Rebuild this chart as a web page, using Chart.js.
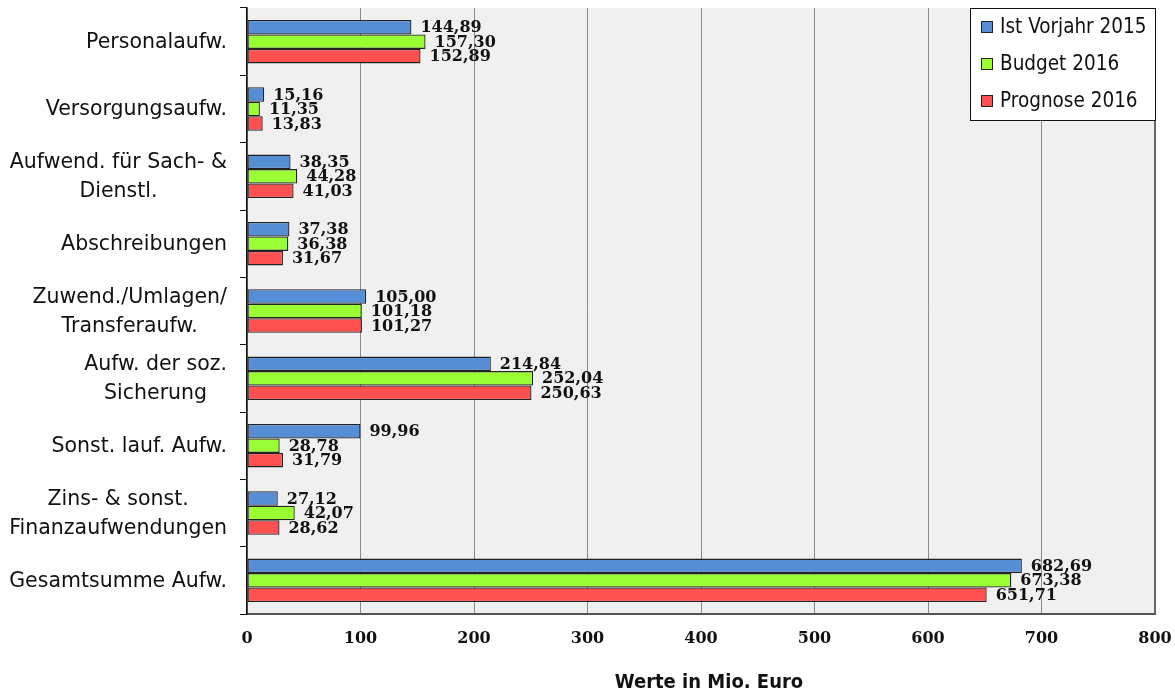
<!DOCTYPE html>
<html>
<head>
<meta charset="utf-8">
<script src="https://cdn.jsdelivr.net/npm/chart.js@4.4.1/dist/chart.umd.min.js"></script>
<style>
  html, body { margin: 0; padding: 0; background: #ffffff; }
  #wrap { width: 1175px; height: 696px; }
</style>
</head>
<body>
<div id="wrap"><canvas id="chart" width="1175" height="696"></canvas></div>
<script>
// Expense categories (multi-line labels as arrays)
const categories = [
  'Personalaufw.',
  'Versorgungsaufw.',
  ['Aufwend. für Sach- &', 'Dienstl.'],
  'Abschreibungen',
  ['Zuwend./Umlagen/', 'Transferaufw.'],
  ['Aufw. der soz.', 'Sicherung'],
  'Sonst. lauf. Aufw.',
  ['Zins- & sonst.', 'Finanzaufwendungen'],
  'Gesamtsumme Aufw.'
];

const seriesNames = ['Ist Vorjahr 2015', 'Budget 2016', 'Prognose 2016'];

// Values in Mio. Euro
const istVorjahr2015 = [144.89, 15.16, 38.35, 37.38, 105.00, 214.84, 99.96, 27.12, 682.69];
const budget2016     = [157.30, 11.35, 44.28, 36.38, 101.18, 252.04, 28.78, 42.07, 673.38];
const prognose2016   = [152.89, 13.83, 41.03, 31.67, 101.27, 250.63, 31.79, 28.62, 651.71];

// Value axis ticks
const xTickValues = [0, 100, 200, 300, 400, 500, 600, 700, 800];
const axisTitle = 'Werte in Mio. Euro';

const seriesColors = ['#558ed5', '#99ff33', '#ff5050'];

const fmt = v => v.toFixed(2).replace('.', ',');

const CAT_FONT = '20.5px "DejaVu Sans", sans-serif';
const LEGEND_FONT = '20.5px "DejaVu Sans Condensed", "DejaVu Sans", sans-serif';
const TITLE_FONT = 'bold 20px "DejaVu Sans Condensed", "DejaVu Sans", sans-serif';
const VALUE_FONT = 'bold 16px "DejaVu Serif", serif';

// Grey plot background
const plotBackground = {
  id: 'plotBackground',
  beforeDraw(chart) {
    const { ctx, chartArea: a } = chart;
    ctx.save();
    ctx.fillStyle = '#f0f0f0';
    ctx.fillRect(a.left, a.top, a.right - a.left, a.bottom - a.top);
    ctx.restore();
  }
};

// Value labels to the right of each bar
const valueLabels = {
  id: 'valueLabels',
  afterDatasetsDraw(chart) {
    const { ctx } = chart;
    ctx.save();
    ctx.font = VALUE_FONT;
    ctx.fillStyle = '#111111';
    ctx.textAlign = 'left';
    ctx.textBaseline = 'middle';
    chart.data.datasets.forEach((ds, di) => {
      const meta = chart.getDatasetMeta(di);
      meta.data.forEach((bar, i) => {
        ctx.fillText(fmt(ds.data[i]), bar.x + 9, bar.y + 1);
      });
    });
    ctx.restore();
  }
};

// Frame, category labels, boxed legend and axis title
const decorations = {
  id: 'decorations',
  afterDraw(chart) {
    const { ctx, chartArea: a } = chart;
    const yScale = chart.scales.y;
    ctx.save();

    // right frame edge
    ctx.strokeStyle = '#666666';
    ctx.lineWidth = 2;
    ctx.beginPath();
    ctx.moveTo(a.right, a.top);
    ctx.lineTo(a.right, a.bottom);
    ctx.stroke();

    // category labels: block right-aligned, lines centred within the block
    ctx.font = CAT_FONT;
    ctx.fillStyle = '#111111';
    ctx.textAlign = 'center';
    ctx.textBaseline = 'middle';
    const lineH = 29;
    const rightEdge = a.left - 20;
    chart.data.labels.forEach((lab, i) => {
      const lines = Array.isArray(lab) ? lab : [lab];
      const w = Math.max(...lines.map(l => ctx.measureText(l).width));
      const cx = rightEdge - w / 2;
      const cy = yScale.getPixelForValue(i);
      const y0 = cy - (lines.length - 1) * lineH / 2;
      lines.forEach((l, k) => ctx.fillText(l, cx, y0 + k * lineH + 1));
    });

    // legend box in the top-right corner of the plot
    const bw = 186, bh = 113;
    const bx = a.right - bw + 1, by = a.top;
    ctx.fillStyle = '#ffffff';
    ctx.fillRect(bx, by, bw, bh);
    ctx.strokeStyle = '#111111';
    ctx.lineWidth = 1;
    ctx.strokeRect(bx + 0.5, by + 0.5, bw - 1, bh - 1);
    ctx.font = LEGEND_FONT;
    ctx.textAlign = 'left';
    ctx.textBaseline = 'middle';
    chart.data.datasets.forEach((ds, di) => {
      const cy = by + 19 + di * 37;
      ctx.fillStyle = ds.backgroundColor;
      ctx.fillRect(bx + 11, cy - 6, 12, 12);
      ctx.strokeStyle = '#222222';
      ctx.strokeRect(bx + 11.5, cy - 5.5, 11, 11);
      ctx.fillStyle = '#111111';
      ctx.fillText(ds.label, bx + 30, cy + 1);
    });

    // axis title
    ctx.font = TITLE_FONT;
    ctx.textAlign = 'center';
    ctx.textBaseline = 'alphabetic';
    ctx.fillStyle = '#111111';
    ctx.fillText(axisTitle, (a.left + a.right) / 2 + 8, 688);

    ctx.restore();
  }
};

const seriesData = [istVorjahr2015, budget2016, prognose2016];

new Chart(document.getElementById('chart'), {
  type: 'bar',
  data: {
    labels: categories,
    datasets: seriesNames.map((name, i) => ({
      label: name,
      data: seriesData[i],
      backgroundColor: seriesColors[i],
      borderColor: '#222222',
      borderWidth: 1.3,
      borderSkipped: false,
      categoryPercentage: 0.645,
      barPercentage: 1.0
    }))
  },
  options: {
    indexAxis: 'y',
    responsive: false,
    animation: false,
    devicePixelRatio: 1,
    layout: { padding: { top: 8, right: 20, bottom: 0, left: 0 } },
    plugins: {
      legend: { display: false },
      tooltip: { enabled: false }
    },
    scales: {
      x: {
        min: 0,
        max: 800,
        afterBuildTicks: s => { s.ticks = xTickValues.map(v => ({ value: v })); },
        afterFit: s => { s.height = 82; s.paddingLeft = 0; s.paddingRight = 0; },
        grid: { color: '#8a8a8a', lineWidth: 1, drawTicks: false },
        border: { color: '#555555', width: 2 },
        ticks: {
          padding: 15,
          color: '#111111',
          font: { family: 'DejaVu Serif', weight: 'bold', size: 16 }
        }
      },
      y: {
        afterFit: s => { s.width = 247; },
        grid: { drawOnChartArea: false, drawTicks: true, tickLength: 7, color: '#111111', offset: true },
        border: { color: '#111111', width: 1.5 },
        ticks: { display: false }
      }
    }
  },
  plugins: [plotBackground, valueLabels, decorations]
});
</script>
</body>
</html>
